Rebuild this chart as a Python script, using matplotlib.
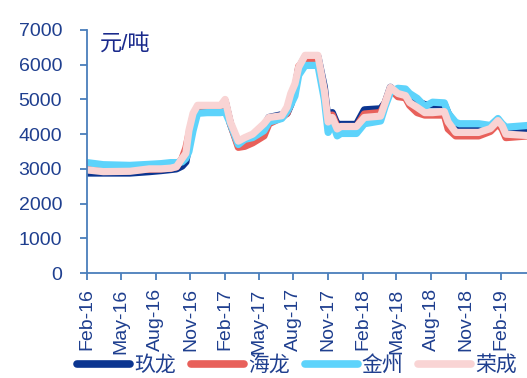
import numpy as np
import pandas as pd
import matplotlib
matplotlib.use("Agg")
import matplotlib.pyplot as plt
import matplotlib.dates as mdates

plt.rcParams['font.family'] = ['Liberation Sans', 'Noto Sans CJK SC']

# weekly-ish price points, 元/吨
dates = pd.to_datetime([
    "2016-02-01", "2016-03-15", "2016-05-25", "2016-07-15", "2016-08-15",
    "2016-09-10", "2016-09-25", "2016-10-10", "2016-10-20", "2016-10-28",
    "2016-11-08", "2016-11-20", "2016-12-15", "2017-01-20", "2017-02-01",
    "2017-02-15", "2017-03-08", "2017-03-25", "2017-04-15", "2017-05-15",
    "2017-05-28", "2017-07-01", "2017-07-15", "2017-07-25", "2017-08-05",
    "2017-08-15", "2017-09-01", "2017-10-05", "2017-10-22", "2017-11-01",
    "2017-11-12", "2017-11-25", "2017-12-05", "2018-01-15", "2018-02-05",
    "2018-03-20", "2018-04-01", "2018-04-15", "2018-05-05", "2018-05-25",
    "2018-06-05", "2018-06-25", "2018-07-15", "2018-08-05", "2018-09-05",
    "2018-09-15", "2018-10-05", "2018-10-15", "2018-12-05", "2019-01-05",
    "2019-01-25", "2019-02-05", "2019-02-15", "2019-04-15",
])
jiulong = [
    2880, 2880, 2880, 2920, 2950, 2980, 3000, 3080, 3200, 3700,
    4400, 4700, 4720, 4720, 4950, 4300, 3680, 3720, 3780, 4200,
    4480, 4560, 4600, 4850, 5300, 5900, 6230, 6230, 5350, 4350,
    4620, 4280, 4280, 4280, 4700, 4730, 4900, 5350, 5150, 5100,
    4950, 4950, 4850, 4850, 4850, 4600, 4250, 4250, 4250, 4200,
    4330, 4250, 4080, 4080,
]
hailong = [
    2980, 2980, 2960, 2990, 3000, 3020, 3060, 3300, 3600, 4000,
    4500, 4750, 4750, 4750, 4950, 4300, 3620, 3650, 3750, 3950,
    4300, 4480, 4600, 4900, 5250, 5950, 6130, 6130, 5200, 4300,
    4550, 4200, 4200, 4200, 4580, 4620, 4900, 5300, 5080, 5050,
    4830, 4620, 4550, 4550, 4550, 4150, 3950, 3950, 3950, 4080,
    4300, 4150, 3900, 3950,
]
jinzhou = [
    3180, 3120, 3100, 3130, 3150, 3180, 3180, 3200, 3300, 3500,
    4100, 4600, 4620, 4620, 4650, 4300, 3700, 3850, 3900, 4100,
    4350, 4450, 4650, 4850, 5100, 5700, 5980, 5980, 5000, 4050,
    4350, 3950, 4020, 4020, 4300, 4380, 4800, 5200, 5320, 5300,
    5170, 5030, 4800, 4920, 4900, 4600, 4340, 4300, 4300, 4250,
    4450, 4300, 4200, 4250,
]
rongcheng = [
    2970, 2920, 2930, 3000, 3000, 3020, 3060, 3300, 3450, 4100,
    4600, 4830, 4830, 4830, 5000, 4350, 3800, 3900, 4000, 4300,
    4480, 4530, 4780, 5170, 5450, 5930, 6270, 6270, 5250, 4350,
    4480, 4150, 4220, 4220, 4480, 4520, 4900, 5350, 5170, 5110,
    4910, 4770, 4620, 4620, 4650, 4350, 4050, 4050, 4050, 4160,
    4390, 4250, 4000, 3960,
]

names = ["玖龙", "海龙", "金州", "荣成"]
colors = ["#0B3590", "#E8605A", "#5DD3FB", "#F9D4D4"]
series = [jiulong, hailong, jinzhou, rongcheng]

tick_color = "#1F3F8F"
spine_color = "#4A7EBB"

fig = plt.figure(figsize=(5.27, 3.78), dpi=100)
ax = fig.add_axes([87 / 527, 105 / 378, 440 / 527, 243 / 378])

for name, c, vals in zip(names, colors, series):
    ax.plot(dates, vals, color=c, lw=5.2, label=name,
            solid_joinstyle='round', solid_capstyle='butt')

ax.set_ylim(0, 7000)
ax.set_yticks(np.arange(0, 7001, 1000))
ax.set_xlim(pd.Timestamp("2016-02-01"), pd.Timestamp("2019-04-12"))
ax.xaxis.set_major_locator(mdates.MonthLocator(bymonth=[2, 5, 8, 11]))
ax.xaxis.set_major_formatter(mdates.DateFormatter('%b-%y'))

for s in ['top', 'right']:
    ax.spines[s].set_visible(False)
for s in ['left', 'bottom']:
    ax.spines[s].set_color(spine_color)
    ax.spines[s].set_linewidth(1.3)

ax.tick_params(axis='y', colors=spine_color, labelcolor=tick_color,
               labelsize=14, length=5, width=1.3, pad=13)
ax.tick_params(axis='x', colors=spine_color, labelcolor=tick_color,
               labelsize=14, length=5, width=1.3, pad=6, labelrotation=90)

ax.text(0.03, 0.94, "元/吨", transform=ax.transAxes, fontsize=16,
        color="#1A2A8C", ha='left', va='center')

leg = fig.legend(loc='center', bbox_to_anchor=(0.564, 0.034), ncol=4,
                 frameon=False, fontsize=15, handlelength=2.55,
                 handletextpad=0.2, columnspacing=0.7, borderpad=0)
for h in leg.get_lines():
    h.set_linewidth(5.5)
    h.set_solid_capstyle('round')
for t in leg.get_texts():
    t.set_color(tick_color)

fig.savefig("out.png", dpi=100)
